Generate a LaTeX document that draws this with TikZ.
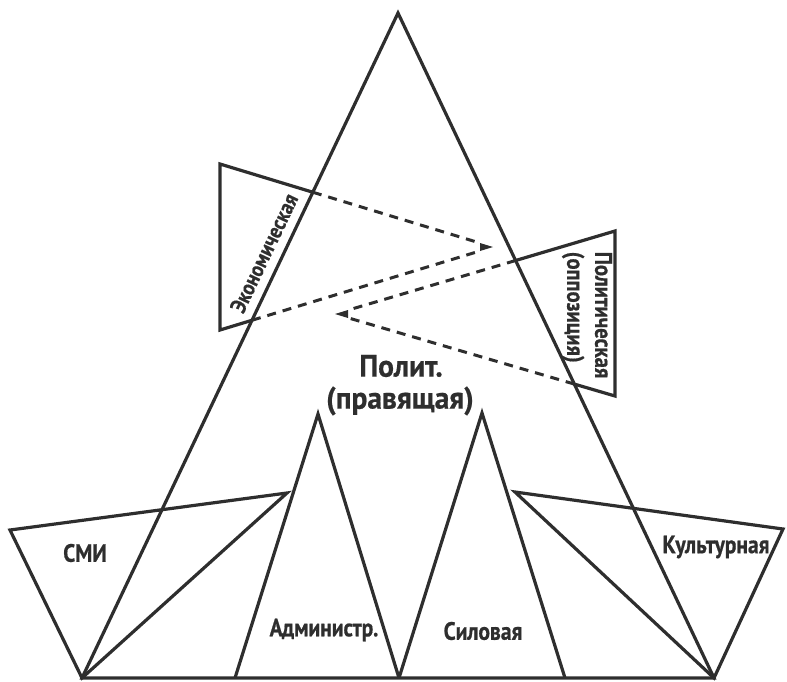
\documentclass[tikz,border=0pt]{standalone}
\usepackage{fontspec}
\usetikzlibrary{calc}
\newfontfamily\lab{PT Sans}[FakeStretch=0.95,FakeBold=0.6]
\newfontfamily\labn{PT Sans}[FakeStretch=0.86,FakeBold=0.6]
\definecolor{ink}{HTML}{2E2E2E}
\begin{document}
\begin{tikzpicture}[x=1pt,y=-1pt,
  outl/.style={draw=ink,line width=3.2pt,line join=miter},
  dashl/.style={draw=ink,line width=3pt,dash pattern=on 9pt off 7pt},
  tipfill/.style={fill=ink},
  lbl/.style={text=ink,font=\labn\bfseries\fontsize{25}{28}\selectfont,inner sep=0pt},
  biglbl/.style={text=ink,font=\lab\bfseries\fontsize{31}{36}\selectfont,inner sep=0pt,align=center}]
\useasboundingbox (0,0) rectangle (787,681);
% main pyramid
\coordinate (T) at (398,13);
\coordinate (BL) at (82,678);
\coordinate (BR) at (714,678);
\draw[outl] (T) -- (BL) -- (BR) -- cycle;
% SMI
\coordinate (S1) at (10,530);
\coordinate (S2) at (287,493);
\draw[outl] (S1) -- (S2) -- (BL) -- cycle;
% Cultural
\coordinate (C1) at (515,492);
\coordinate (C2) at (783,529);
\draw[outl] (C1) -- (C2) -- (BR) -- cycle;
% Administr.
\coordinate (A1) at (235,678);
\coordinate (A2) at (318,414);
\coordinate (A3) at (399,678);
\draw[outl] (A1) -- (A2) -- (A3);
% Silovaya
\coordinate (F2) at (482,413);
\coordinate (F3) at (565,678);
\draw[outl] (A3) -- (F2) -- (F3);
% Economic
\coordinate (Ea) at (493,247);
\coordinate (Et) at (220,164);
\coordinate (Eb) at (220,330);
\coordinate (Ei1) at (intersection of Et--Ea and T--BL);
\coordinate (Ei2) at (intersection of Eb--Ea and T--BL);
\draw[outl] (Ei1) -- (Et) -- (Eb) -- (Ei2);
\draw[dashl] (Ei1) -- ($(Ea)!13pt!(Et)$);
\draw[dashl] (Ei2) -- ($(Ea)!16pt!(Eb)$);
\fill[tipfill] (Ea) -- ++(-13,-4) -- ++(0,8) -- cycle;
% Political
\coordinate (Pa) at (335,314);
\coordinate (Pt) at (615,231);
\coordinate (Pb) at (615,396);
\coordinate (Pi1) at (intersection of Pt--Pa and T--BR);
\coordinate (Pi2) at (intersection of Pb--Pa and T--BR);
\draw[outl] (Pi1) -- (Pt) -- (Pb) -- (Pi2);
\draw[dashl] (Pi1) -- ($(Pa)!16pt!(Pt)$);
\draw[dashl] (Pi2) -- ($(Pa)!13pt!(Pb)$);
\fill[tipfill] (Pa) -- ++(13,-4) -- ++(0,8) -- cycle;
% labels
\node[biglbl] (pol) at (401,366) {Полит.};
\node[biglbl] (prav) at (400,401) {(правящая)};
\node[lbl] (smi) at (85,553) {СМИ};
\node[lbl] (adm) at (324,630) {Администр.};
\node[lbl] (sil) at (483,631) {Силовая};
\node[lbl] (kul) at (716,547) {Культурная};
\node[lbl,font=\labn\bfseries\fontsize{22}{26}\selectfont,rotate=64.5] (eco) at (264,253) {Экономическая};
\node[lbl,font=\labn\bfseries\fontsize{24}{28}\selectfont,rotate=-90,align=left] (polop) at (587,315) {Политическая\\(оппозиция)};
\end{tikzpicture}
\end{document}
